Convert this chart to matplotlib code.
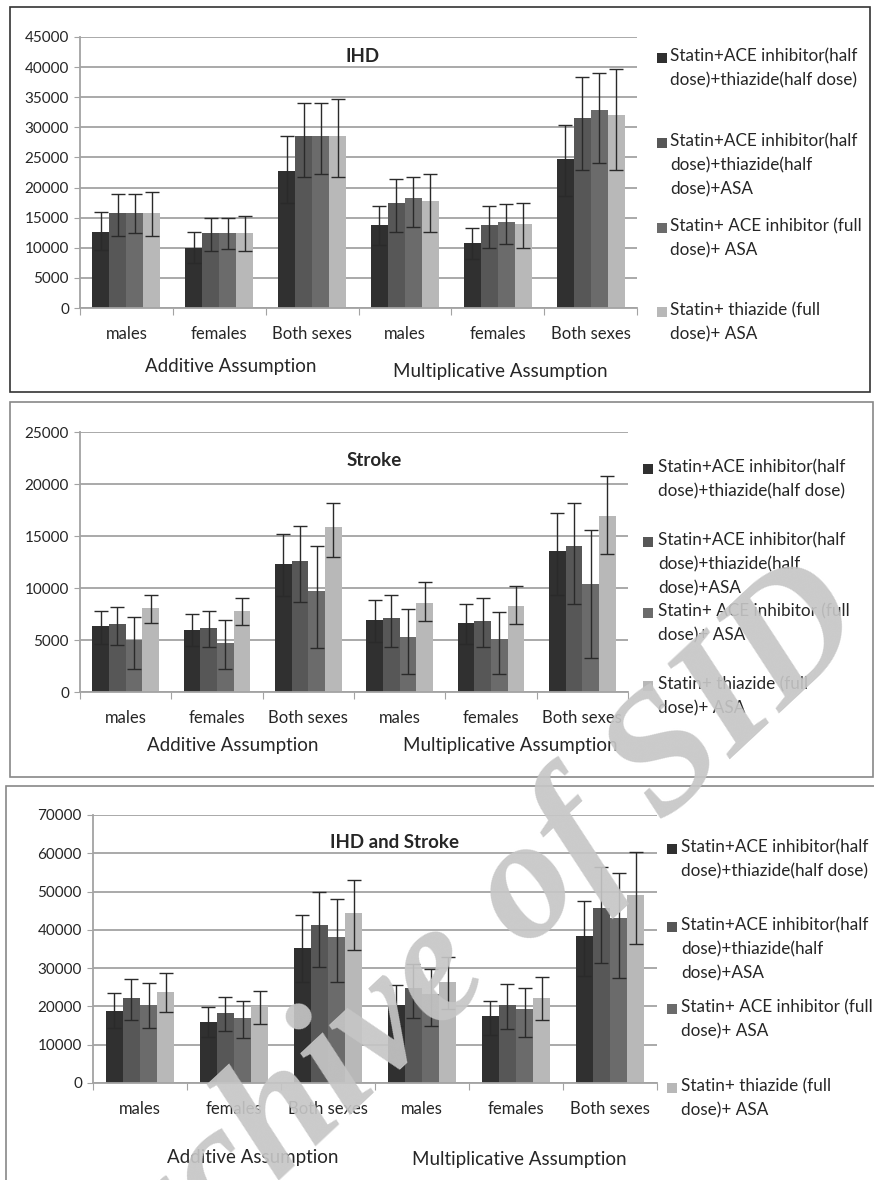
import numpy as np
import matplotlib
matplotlib.use("Agg")
import matplotlib.pyplot as plt
from matplotlib.patches import Rectangle

plt.rcParams["font.family"] = ["Lato", "DejaVu Sans"]

W, H = 874, 1180

groups = ["males", "females", "Both sexes", "males", "females", "Both sexes"]
series = [
    "Statin+ACE inhibitor(half\ndose)+thiazide(half dose)",
    "Statin+ACE inhibitor(half\ndose)+thiazide(half\ndose)+ASA",
    "Statin+ ACE inhibitor (full\ndose)+ ASA",
    "Statin+ thiazide (full\ndose)+ ASA",
]
colors = ["#303030", "#575757", "#6b6b6b", "#b8b8b8"]

# IHD: point estimate, lower and upper bound, one row per regimen
ihd_val = [[12700, 10000, 22800, 13700, 10800, 24800],
           [15800, 12400, 28500, 17500, 13800, 31500],
           [15800, 12400, 28500, 18200, 14300, 32800],
           [15800, 12400, 28500, 17800, 14000, 32100]]
ihd_lo = [[9600, 7500, 17500, 10400, 8100, 18600],
          [12000, 9500, 21700, 12700, 9900, 22900],
          [12400, 9800, 22300, 13500, 10600, 24100],
          [12000, 9500, 21700, 12700, 9900, 22900]]
ihd_hi = [[15900, 12600, 28500, 16900, 13300, 30400],
          [19000, 14900, 34100, 21400, 16900, 38400],
          [19000, 14900, 34100, 21700, 17200, 39100],
          [19300, 15300, 34700, 22200, 17400, 39700]]

stroke_val = [[6300, 6000, 12300, 6900, 6600, 13600],
              [6500, 6200, 12600, 7100, 6800, 14000],
              [5000, 4700, 9700, 5300, 5100, 10400],
              [8100, 7800, 15900, 8600, 8300, 16900]]
stroke_lo = [[4600, 4400, 9200, 4800, 4600, 9300],
             [4500, 4300, 8700, 4300, 4300, 8500],
             [2200, 2200, 4200, 1700, 1700, 3300],
             [6600, 6400, 13000, 6800, 6500, 13300]]
stroke_hi = [[7800, 7500, 15200, 8800, 8500, 17200],
             [8200, 7800, 16000, 9300, 9000, 18200],
             [7200, 6900, 14000, 8000, 7700, 15600],
             [9300, 9000, 18200, 10600, 10200, 20800]]

both_val = [[18800, 15900, 35200, 20500, 17400, 38500],
            [22100, 18300, 41200, 24700, 20500, 45600],
            [20500, 17100, 38200, 23200, 19300, 43100],
            [23800, 20100, 44500, 26400, 22100, 49100]]
both_lo = [[14300, 12000, 26400, 14900, 12600, 28000],
           [16400, 13600, 30200, 17000, 14000, 31300],
           [14400, 11700, 26400, 15000, 11900, 27400],
           [18600, 15500, 34800, 19300, 16400, 36400]]
both_hi = [[23500, 19800, 44000, 25600, 21500, 47600],
           [27100, 22500, 50000, 31000, 25900, 56400],
           [26200, 21500, 48000, 29900, 24700, 54800],
           [28700, 24000, 53000, 32800, 27600, 60300]]


def px_rect(l, t, r, b):
    return [l / W, 1 - b / H, (r - l) / W, (b - t) / H]


def fig_xy(x, y):
    return x / W, 1 - y / H


# per panel: title, data, y max, y step, axes box (px), frame box (px),
# title pos, legend (square x, text x, first-line y of each entry), label pos
panels = [
    dict(title="IHD", val=ihd_val, lo=ihd_lo, hi=ihd_hi, ymax=45000, step=5000,
         ax=(80, 37, 637, 308), frame=(10, 7, 870, 392), frame_col="#333333",
         title_xy=(363, 57), leg_x=(657, 670), leg_y=[58, 143, 228, 312],
         add_xy=(231, 367), mult_xy=(500, 372)),
    dict(title="Stroke", val=stroke_val, lo=stroke_lo, hi=stroke_hi, ymax=25000, step=5000,
         ax=(80, 432, 628, 692), frame=(10, 402, 873, 777), frame_col="#888888",
         title_xy=(374, 461), leg_x=(643, 658), leg_y=[469, 542, 613, 686],
         add_xy=(233, 746), mult_xy=(510, 746)),
    dict(title="IHD and Stroke", val=both_val, lo=both_lo, hi=both_hi, ymax=70000, step=10000,
         ax=(93, 815, 657, 1083), frame=(6, 786, 880, 1190), frame_col="#888888",
         title_xy=(395, 842), leg_x=(667, 681), leg_y=[849, 927, 1009, 1088],
         add_xy=(253, 1158), mult_xy=(519, 1160)),
]

fig = plt.figure(figsize=(W / 100, H / 100), dpi=100)
fig.patch.set_facecolor("white")

x = np.arange(len(groups))
bw = 0.183
grid_col = "#a3a3a3"
text_col = "#262626"

for p in panels:
    l, t, r, b = p["frame"]
    fig.patches.append(Rectangle(fig_xy(l, b), (r - l) / W, (b - t) / H,
                                 transform=fig.transFigure, fill=False,
                                 edgecolor=p["frame_col"], linewidth=1.2))

    ax = fig.add_axes(px_rect(*p["ax"]))
    ax.set_facecolor("none")
    for i in range(4):
        v = np.array(p["val"][i])
        lo = np.array(p["lo"][i])
        hi = np.array(p["hi"][i])
        pos = x + (i - 1.5) * bw
        ax.bar(pos, v, width=bw, color=colors[i], zorder=2)
        ax.errorbar(pos, v, yerr=[v - lo, hi - v], fmt="none", ecolor="#2a2a2a",
                    elinewidth=1.0, capsize=5, capthick=1.0, zorder=3)

    ax.set_xlim(-0.5, len(groups) - 0.5)
    ax.set_ylim(0, p["ymax"])
    ax.set_yticks(np.arange(0, p["ymax"] + 1, p["step"]))
    ax.yaxis.grid(True, color=grid_col, linewidth=1.3, zorder=0)
    ax.set_axisbelow(True)
    for s in ["top", "right"]:
        ax.spines[s].set_visible(False)
    for s in ["left", "bottom"]:
        ax.spines[s].set_color(grid_col)
        ax.spines[s].set_linewidth(1.3)
    ax.tick_params(axis="y", length=4, color=grid_col, labelsize=11,
                   labelcolor=text_col, pad=4)
    # category boundaries carry the tick marks, labels sit at group centres
    ax.set_xticks(np.arange(-0.5, len(groups)), labels=[""] * (len(groups) + 1))
    ax.tick_params(axis="x", which="major", length=5, color=grid_col)
    ax.set_xticks(x, labels=groups, minor=True)
    ax.tick_params(axis="x", which="minor", length=0, labelsize=12,
                   labelcolor=text_col, pad=13)

    fig.text(*fig_xy(*p["title_xy"]), p["title"], ha="center", va="center",
             fontsize=13.5, fontweight="bold", color=text_col)
    fig.text(*fig_xy(*p["add_xy"]), "Additive Assumption", ha="center", va="center",
             fontsize=13.5, color=text_col)
    fig.text(*fig_xy(*p["mult_xy"]), "Multiplicative Assumption", ha="center",
             va="center", fontsize=13.5, color=text_col)

    sq_x, tx_x = p["leg_x"]
    for i, name in enumerate(series):
        y0 = p["leg_y"][i]
        fig.patches.append(Rectangle(fig_xy(sq_x, y0 + 5), 10 / W, 10 / H,
                                     transform=fig.transFigure, facecolor=colors[i],
                                     edgecolor="none"))
        fig.text(*fig_xy(tx_x, y0 - 10), name, ha="left", va="top", fontsize=12.3,
                 color=text_col, linespacing=1.6)

# archive stamp running diagonally across the lower two panels
fig.text(*fig_xy(875, 633), "Archive of SID", ha="right", va="baseline",
         rotation=43, rotation_mode="anchor", fontsize=124,
         family="Liberation Serif", style="italic", fontweight="bold",
         color="#c6c6c6", alpha=0.92, zorder=10)

fig.savefig("out.png", dpi=100)
